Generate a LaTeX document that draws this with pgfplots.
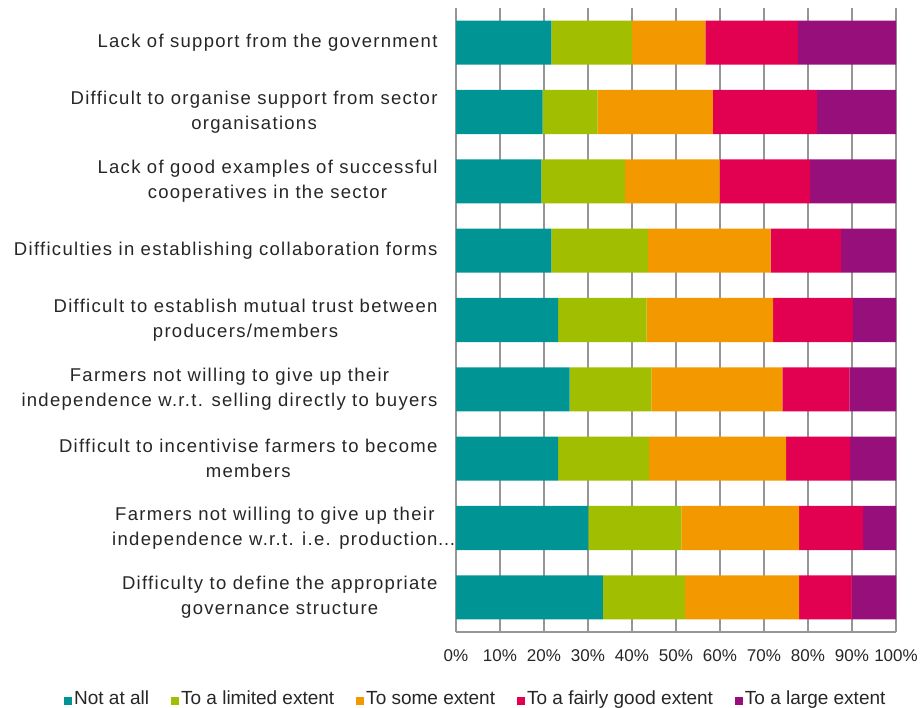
\documentclass[border=0pt]{standalone}
\usepackage{fontspec}
\setmainfont{Liberation Sans}
\usepackage{pgfplots}
\pgfplotsset{compat=1.18}
\usepackage{pgfplotstable}
\definecolor{cteal}{RGB}{0,149,148}
\definecolor{cgreen}{RGB}{161,191,0}
\definecolor{corange}{RGB}{244,152,0}
\definecolor{cred}{RGB}{226,0,80}
\definecolor{cpurple}{RGB}{150,15,123}
\definecolor{cgrid}{RGB}{150,150,150}
\pgfplotstableread{
y  a    b    c    d    e
0  21.7 18.3 16.7 21.0 22.3
1  19.7 12.5 26.2 23.7 17.9
2  19.4 19.0 21.5 20.6 19.5
3  21.7 21.9 27.9 16.0 12.5
4  23.2 20.1 28.8 18.1 9.8
5  25.8 18.6 29.8 15.2 10.6
6  23.2 20.7 31.1 14.6 10.4
7  30.1 21.1 26.8 14.5 7.5
8  33.4 18.7 25.9 11.9 10.1
}\datatable
\newfontfamily\lblfont[LetterSpace=7]{Liberation Sans}
\begin{document}
\begin{tikzpicture}
\begin{axis}[
  at={(456pt,-632pt)}, anchor=south west,
  scale only axis, width=440pt, height=624pt,
  xbar stacked, bar width=0.635,
  y dir=reverse,
  xmin=0, xmax=100, ymin=-0.5, ymax=8.5,
  axis line style={draw=none},
  xmajorgrids, grid style={cgrid, line width=1.5pt},
  xtick={0,10,...,100},
  xticklabels={0\%,10\%,20\%,30\%,40\%,50\%,60\%,70\%,80\%,90\%,100\%},
  xticklabel style={font=\fontsize{17}{20}\selectfont, text=black!85},
  xticklabel shift=14pt,
  ytick={0,...,8},
  yticklabels={
    {Lack of support from the government},
    {Difficult to organise support from sector\\organisations},
    {Lack of good examples of successful\\cooperatives in the sector},
    {Difficulties in establishing collaboration forms},
    {Difficult to establish mutual trust between\\producers/members},
    {Farmers not willing to give up their\\independence w.r.t. selling directly to buyers},
    {Difficult to incentivise farmers to become\\members},
    {Farmers not willing to give up their\\independence w.r.t. i.e. production\rlap{…}},
    {Difficulty to define the appropriate\\governance structure}},
  yticklabel style={align=center, font=\lblfont\fontsize{18.5}{25}\selectfont, text=black!85},
  yticklabel shift=15pt,
  major tick length=0pt,
  extra y ticks={8.5}, extra y tick labels={},
  extra y tick style={grid=major, ymajorgrids, major grid style={cgrid, line width=1.5pt}},
  legend style={at={(0.045,-0.109)}, anchor=center, draw=none, fill=none,
    legend columns=-1, font=\fontsize{19}{21}\selectfont, text=black!85,
    nodes={text height=13.5pt, text depth=4pt},
    /tikz/every even column/.style={column sep=20pt}},
  legend image code/.code={\fill[#1] (0pt,-4.5pt) rectangle (8pt,3.5pt);},
]
\addplot[fill=cteal, draw=none] table[x=a, y=y]{\datatable};
\addplot[fill=cgreen, draw=none] table[x=b, y=y]{\datatable};
\addplot[fill=corange, draw=none] table[x=c, y=y]{\datatable};
\addplot[fill=cred, draw=none] table[x=d, y=y]{\datatable};
\addplot[fill=cpurple, draw=none] table[x=e, y=y]{\datatable};
\legend{Not at all, To a limited extent, To some extent, To a fairly good extent, To a large extent}
\end{axis}
\pgfresetboundingbox
\path[use as bounding box] (0pt,0pt) rectangle (921pt,-708pt);
\end{tikzpicture}
\end{document}
